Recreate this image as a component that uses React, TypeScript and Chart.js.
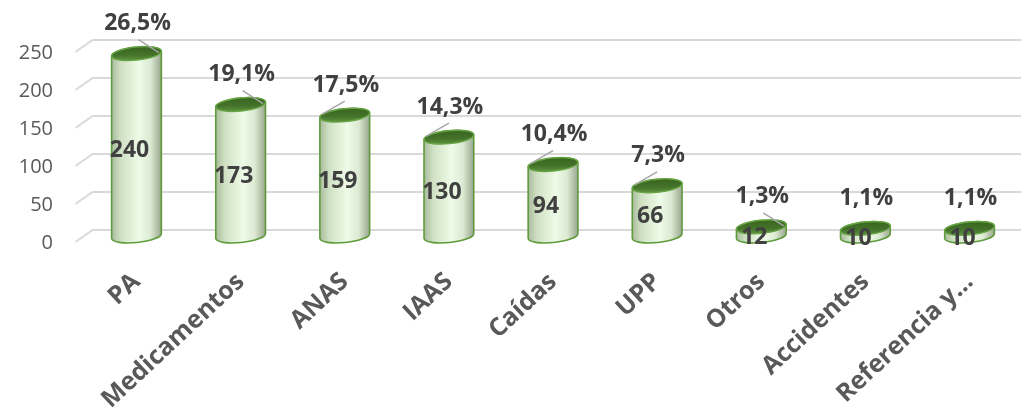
import React, { useEffect, useRef } from 'react';
import { Chart, registerables } from 'chart.js';

Chart.register(...registerables);

// ---- data ----
const categories = ['PA', 'Medicamentos', 'ANAS', 'IAAS', 'Caídas', 'UPP', 'Otros', 'Accidentes', 'Referencia y…'];
const counts = [240, 173, 159, 130, 94, 66, 12, 10, 10];
const percents = [26.5, 19.1, 17.5, 14.3, 10.4, 7.3, 1.3, 1.1, 1.1];
const yTickValues = [0, 50, 100, 150, 200, 250];

// ---- styling ----
const leaderSide = [1, 1, -1, -1, -1, -1, 1, 0, 0];
const FONT = "'Open Sans', sans-serif";
const TEXT_DARK = '#404040';
const AXIS_TEXT = '#595959';
const GRID = '#d9d9d9';

const fmtPct = (v: number) => v.toFixed(1).replace('.', ',') + '%';

const cylinderPlugin = {
  id: 'cylinders3d',
  beforeDatasetsDraw(chart: any) {
    const { ctx, chartArea, scales } = chart;
    const y = scales.y;
    ctx.save();
    ctx.strokeStyle = GRID;
    ctx.lineWidth = 2;
    const xf = chartArea.left - 61;
    const xb = chartArea.left - 44;
    y.ticks.forEach((t: any) => {
      const ym = y.getPixelForValue(t.value);
      ctx.beginPath();
      ctx.moveTo(xf, ym + 6);
      ctx.lineTo(xb, ym - 6);
      ctx.lineTo(chart.width, ym - 6);
      ctx.stroke();
    });
    // y tick labels on the front plane
    ctx.fillStyle = AXIS_TEXT;
    ctx.font = `20px ${FONT}`;
    ctx.textAlign = 'right';
    ctx.textBaseline = 'middle';
    y.ticks.forEach((t: any) => {
      const ym = y.getPixelForValue(t.value);
      ctx.fillText(String(t.value), chartArea.left - 83.5, ym + 7);
    });
    ctx.restore();
  },
  afterDatasetsDraw(chart: any) {
    const { ctx } = chart;
    const meta = chart.getDatasetMeta(0);
    const rot = -0.1;
    const ry = 6.5;
    ctx.save();
    meta.data.forEach((bar: any) => {
      const { x, y, base, width } = bar.getProps(['x', 'y', 'base', 'width'], true);
      const rx = width / 2;
      // body
      const g = ctx.createLinearGradient(x - rx, 0, x + rx, 0);
      g.addColorStop(0, '#a9bb9c');
      g.addColorStop(0.18, '#cfe0c3');
      g.addColorStop(0.55, '#eefbe7');
      g.addColorStop(0.78, '#dcead3');
      g.addColorStop(1, '#98a68f');
      ctx.beginPath();
      ctx.ellipse(x, base, rx, ry, rot, 0, Math.PI, false);
      ctx.ellipse(x, y, rx, ry, rot, Math.PI, Math.PI * 2, false);
      ctx.closePath();
      ctx.fillStyle = g;
      ctx.fill();
      ctx.strokeStyle = '#5e9b3c';
      ctx.lineWidth = 1.6;
      ctx.stroke();
      // top
      const tg = ctx.createLinearGradient(0, y - ry, 0, y + ry);
      tg.addColorStop(0, '#3a6520');
      tg.addColorStop(0.6, '#44732a');
      tg.addColorStop(1, '#5c903d');
      ctx.beginPath();
      ctx.ellipse(x, y, rx, ry, rot, 0, Math.PI * 2);
      ctx.fillStyle = tg;
      ctx.fill();
      ctx.strokeStyle = '#66a444';
      ctx.lineWidth = 1.4;
      ctx.stroke();
    });

    // labels
    ctx.textAlign = 'center';
    ctx.textBaseline = 'middle';
    meta.data.forEach((bar: any, i: number) => {
      const { x, y, base, width } = bar.getProps(['x', 'y', 'base', 'width'], true);
      const rx = width / 2;
      ctx.font = `bold 23px ${FONT}`;
      ctx.fillStyle = TEXT_DARK;
      ctx.fillText(String(counts[i]), x - 7, (y + base) / 2 + 6);
      const lx = x + 1;
      const ly = y - 30;
      ctx.fillText(fmtPct(percents[i]), lx, ly);
      const side = leaderSide[i];
      if (side !== 0) {
        ctx.strokeStyle = '#a6a6a6';
        ctx.lineWidth = 1.5;
        ctx.beginPath();
        ctx.moveTo(lx + side * 1, ly + 16);
        ctx.lineTo(x + side * rx * 0.9, y - 1);
        ctx.stroke();
      }
    });
    ctx.restore();
  },
};

export default function App() {
  const ref = useRef<HTMLCanvasElement | null>(null);
  useEffect(() => {
    if (!ref.current) return;
    const chart = new Chart(ref.current, {
      type: 'bar',
      data: {
        labels: categories,
        datasets: [
          {
            data: counts,
            backgroundColor: 'rgba(0,0,0,0)',
            borderWidth: 0,
            barPercentage: 0.48,
            categoryPercentage: 1,
          },
        ],
      },
      options: {
        animation: false,
        responsive: true,
        maintainAspectRatio: false,
        layout: { padding: { top: 46, right: 39, left: 0, bottom: 0 } },
        plugins: { legend: { display: false }, tooltip: { enabled: false } },
        scales: {
          x: {
            offset: false,
            grid: { display: false, drawTicks: false },
            border: { display: false },
            ticks: {
              autoSkip: false,
              minRotation: 43,
              maxRotation: 43,
              padding: 31,
              color: AXIS_TEXT,
              font: { family: FONT, size: 25, weight: 'bold' },
            },
            afterFit: (s: any) => {
              s.height = 184;
            },
          },
          y: {
            min: 0,
            max: 250,
            grid: { display: false, drawTicks: false },
            border: { display: false },
            afterBuildTicks: (s: any) => {
              s.ticks = yTickValues.map((v) => ({ value: v }));
            },
            ticks: { display: false },
            afterFit: (s: any) => {
              s.width = 136.5;
            },
          },
        },
      } as any,
      plugins: [cylinderPlugin],
    });
    return () => chart.destroy();
  }, []);
  return (
    <div style={{ position: 'absolute', left: 0, top: 0, width: 1021, height: 420, background: '#fff' }}>
      <canvas ref={ref} />
    </div>
  );
}
